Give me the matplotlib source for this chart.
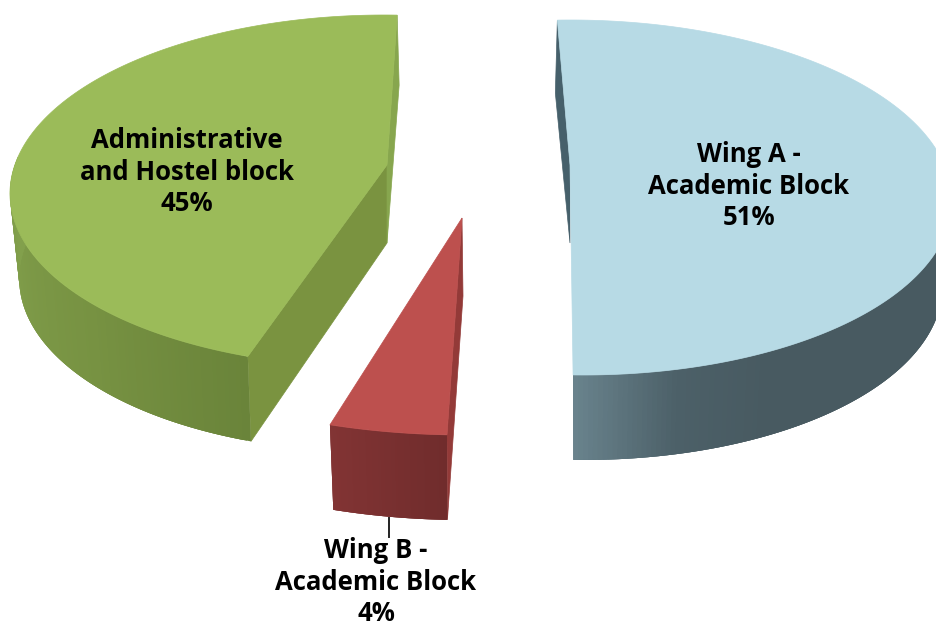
import numpy as np
import matplotlib
matplotlib.use("Agg")
import matplotlib.pyplot as plt
from matplotlib.patches import Polygon

categories = ["Wing A -\nAcademic Block", "Wing B -\nAcademic Block", "Administrative\nand Hostel block"]
shares = [51, 4, 45]

# layout of each exploded slice, in pixels of the picture
slices = [
    dict(start=-92, ex=577, ey=197.5, rx=375, ry=177.5, shear=0.037, apex=(570, 165),
         top="#b7dae5", wall="#46606b", sides=[(60, (72, 90, 97)), (75, (76, 96, 104)), (91.6, (106, 132, 142))],
         text=(749, 186), back=(-2, 73)),
    dict(start=92, ex=463.5, ey=185, rx=473, ry=250, shear=0.0, apex=(462, 218),
         top="#bd504e", wall="#933a38", sides=[(92, (112, 44, 44)), (106.4, (130, 52, 52))],
         text=(376, 582), back=None),
    dict(start=110, ex=379, ey=191, rx=369, ry=176, shear=-0.03, apex=(387, 165),
         top="#9bbb59", wall="#87a64e", sides=[(110, (106, 132, 58)), (140, (119, 146, 66)), (185, (130, 160, 76))],
         text=(187, 172), back=(2, 70)),
]
depth = 85
apex_depth = 78
inset = 0.975


def rim(s, t, lower=False):
    t = np.radians(t)
    rx = s["rx"] * (inset if lower else 1)
    dy = s["ry"] * np.sin(t)
    x = s["ex"] + rx * np.cos(t) + s["shear"] * dy
    y = s["ey"] + dy + (depth if lower else 0)
    return x, y


def shade(s, t):
    stops = [p[0] for p in s["sides"]]
    return tuple(np.interp(t, stops, [p[1][i] for p in s["sides"]]) / 255 for i in range(3))


fig = plt.figure(figsize=(9.37, 6.26), dpi=100)
ax = fig.add_axes([0, 0, 1, 1])
ax.set_xlim(0, 937)
ax.set_ylim(626, 0)
ax.axis("off")

for s, share, name in zip(slices, shares, categories):
    t0 = s["start"]
    t1 = t0 + 360 * share / 100
    ang = np.linspace(t0, t1, 240)
    ax_, ay_ = s["apex"]
    low_apex = (ax_ + (1 if s["back"] is None else 0), ay_ + apex_depth)

    # cut walls behind the top
    x0, y0 = rim(s, t0)
    x1, y1 = rim(s, t1)
    if name.startswith("Administrative"):
        ax.add_patch(Polygon([(ax_, ay_), low_apex, rim(s, t0, True), (x0, y0)],
                             fc="#7a9340", ec="#7a9340", lw=0.5, zorder=2))
        ax.add_patch(Polygon([(x1, y1), (x1 + s["back"][0], y1 + s["back"][1]), low_apex, (ax_, ay_)],
                             fc=s["wall"], ec=s["wall"], lw=0.5, zorder=2))
    elif name.startswith("Wing A"):
        ax.add_patch(Polygon([(x0, y0), (x0 + s["back"][0], y0 + s["back"][1]), low_apex, (ax_, ay_)],
                             fc=s["wall"], ec=s["wall"], lw=0.5, zorder=2))
    else:
        ax.add_patch(Polygon([(ax_, ay_), low_apex, rim(s, t0, True), (x0, y0)],
                             fc=s["wall"], ec=s["wall"], lw=0.5, zorder=2))

    # outer side, only the front part shows; strips overlap so no seams
    keep = ang[np.sin(np.radians(ang)) >= -0.2]
    for i in range(len(keep) - 1):
        a, b = keep[i], keep[min(i + 3, len(keep) - 1)]
        c = shade(s, keep[i])
        ax.add_patch(Polygon([rim(s, a), rim(s, b), rim(s, b, True), rim(s, a, True)],
                             fc=c, ec="none", lw=0, zorder=3))

    # top surface
    xs, ys = rim(s, ang)
    pts = [(ax_, ay_)] + list(zip(xs, ys))
    ax.add_patch(Polygon(pts, fc=s["top"], ec=s["top"], lw=0.5, zorder=4))

    ax.text(s["text"][0], s["text"][1], f"{name}\n{share}%", ha="center", va="center",
            family="Open Sans", weight="bold", fontsize=18.5, color="black",
            linespacing=1.2, zorder=6)

# leader line of the small slice
ax.plot([389, 389], [518, 537], color="#222222", lw=1.4, zorder=5)

fig.savefig("out.png", dpi=100)
